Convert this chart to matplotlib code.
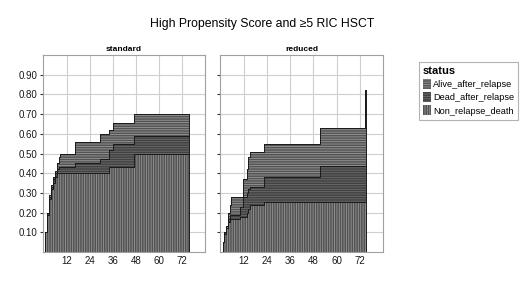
import numpy as np
import matplotlib
matplotlib.use('Agg')
import matplotlib.pyplot as plt
from matplotlib.patches import Patch

plt.rcParams['font.family'] = ['Liberation Sans', 'DejaVu Sans']
plt.rcParams['hatch.linewidth'] = 0.6

# %% data: cumulative incidence per status (months)

STATUSES = ['Alive_after_relapse', 'Dead_after_relapse', 'Non_relapse_death']

std_time = [0, 1, 2, 3, 4, 5, 6, 7, 8, 8.5, 16.5, 29.5, 34, 36, 47, 75.5]
std_nrd = [0, .10, .19, .27, .32, .35, .38, .40, .40, .40, .40, .40, .43, .43, .50, .50]
std_dar = [0, 0, .01, .01, .01, .02, .02, .02, .03, .03, .05, .07, .09, .12, .09, .09]
std_aar = [0, 0, 0, .01, .01, .01, .01, .03, .05, .07, .11, .13, .10, .105, .11, .11]

red_time = [0, 1, 2, 3, 4, 5, 5.5, 10, 11.5, 13.5, 14, 15, 22.5, 51.5, 74.5, 75]
red_nrd = [0, .05, .09, .12, .15, .17, .17, .18, .18, .20, .22, .24, .255, .255, .255, .255]
red_dar = [0, 0, .01, 0, .02, .02, .02, .05, .10, .10, .10, .09, .125, .18, .18, .18]
red_aar = [0, 0, 0, .01, .03, .05, .09, .05, .09, .12, .16, .18, .17, .195, .385, .385]

panels = [('standard', std_time, std_nrd, std_dar, std_aar),
          ('reduced', red_time, red_nrd, red_dar, red_aar)]

# %% styles

styles = {
    'Non_relapse_death': dict(face='#525252', hatch_col='#969696', hatch='|||||||'),
    'Dead_after_relapse': dict(face='#424242', hatch_col='#6c6c6c', hatch='-------'),
    'Alive_after_relapse': dict(face='#545454', hatch_col='#989898', hatch='-------'),
}

fig = plt.figure(figsize=(5.2, 2.88), dpi=100)
fig.text(0.505, 0.918, 'High Propensity Score and \u22655 RIC HSCT', ha='center', va='center', fontsize=8.8)

axes_pos = [[43/520, 36/288, 162/520, 197/288],
            [220/520, 36/288, 163/520, 197/288]]

for pos, (name, t, nrd, dar, aar) in zip(axes_pos, panels):
    ax = fig.add_axes(pos)
    t = np.array(t)
    c1 = np.array(nrd)
    c2 = c1 + np.array(dar)
    c3 = c2 + np.array(aar)

    layers = [('Non_relapse_death', np.zeros_like(c1), c1),
              ('Dead_after_relapse', c1, c2),
              ('Alive_after_relapse', c2, c3)]
    for status, lo, hi in layers:
        st = styles[status]
        ax.fill_between(t, lo, hi, step='post', facecolor=st['face'], edgecolor=st['hatch_col'],
                        hatch=st['hatch'], linewidth=0, zorder=2)
    for c in (c1, c2, c3):
        ax.step(t, c, where='post', color='#1a1a1a', lw=0.7, zorder=3)
    ax.vlines(t[-1], 0, c3[-2], color='#1a1a1a', lw=0.7, zorder=3)

    ax.set_xlim(-0.3, 84)
    ax.set_ylim(0, 1.0)
    ax.set_xticks([12, 24, 36, 48, 60, 72])
    ax.set_yticks(np.arange(0.1, 0.95, 0.1))
    ax.set_yticklabels(['%.2f' % v for v in np.arange(0.1, 0.95, 0.1)] if name == 'standard' else [])
    ax.grid(True, color='#cfcfcf', lw=0.8, zorder=0)
    ax.set_axisbelow(True)
    ax.tick_params(axis='both', labelsize=7, labelcolor='#1a1a1a', length=2.5, width=0.8, color='#333333', pad=1.5)
    ax.tick_params(axis='x', length=0, pad=3)
    for sp in ax.spines.values():
        sp.set_color('#a0a0a0')
        sp.set_linewidth(0.8)
    ax.text(0.5, 1.012, name, transform=ax.transAxes, ha='center', va='bottom', fontsize=6, fontweight='bold')

handles = [Patch(facecolor=styles[s]['face'], edgecolor=styles[s]['hatch_col'], hatch=styles[s]['hatch'],
                 linewidth=0, label=s) for s in STATUSES]
leg = fig.legend(handles=handles, title='status', loc='upper left', bbox_to_anchor=(414/520, 1 - 57/288),
                 fontsize=6.6, title_fontsize=8, frameon=True, fancybox=False, handlelength=0.9,
                 handleheight=1.3, handletextpad=0.2, borderpad=0.45, labelspacing=0.35, alignment='left')
leg.get_frame().set_edgecolor('#a0a0a0')
leg.get_frame().set_linewidth(0.8)
leg.get_title().set_fontweight('bold')

fig.savefig('out.png', dpi=100)
